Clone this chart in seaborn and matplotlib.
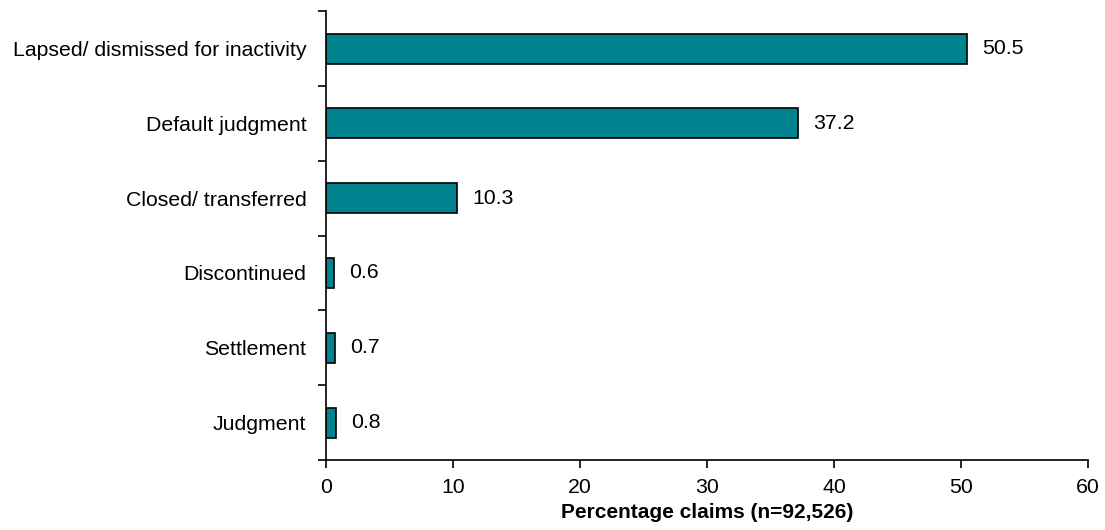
import matplotlib
matplotlib.use("Agg")
import matplotlib.pyplot as plt
import seaborn as sns
import pandas as pd
import numpy as np
from matplotlib.ticker import FixedLocator

sns.set_style("white")
plt.rcParams['font.family'] = ['Liberation Sans', 'DejaVu Sans']
plt.rcParams['text.color'] = 'black'
plt.rcParams['xtick.color'] = 'black'
plt.rcParams['ytick.color'] = 'black'
plt.rcParams['axes.labelcolor'] = 'black'

categories = ["Lapsed/ dismissed for inactivity", "Default judgment", "Closed/ transferred",
              "Discontinued", "Settlement", "Judgment"]
percentages = [50.5, 37.2, 10.3, 0.6, 0.7, 0.8]

df = pd.DataFrame({"outcome": categories, "pct": percentages})

fig = plt.figure(figsize=(11.05, 5.3), dpi=100)
ax = fig.add_axes([0.295, 0.132, 0.6895, 0.847])

sns.barplot(data=df, x="pct", y="outcome", orient="h", color="#00838F",
            edgecolor="black", linewidth=1.2, width=0.4, saturation=1, ax=ax)

fs = 15.3
for i, v in enumerate(percentages):
    ax.text(v + 1.2, i, f"{v:.1f}", va="center", ha="left", fontsize=fs)

ax.set_xlim(0, 60)
ax.set_ylim(len(categories) - 0.5, -0.5)
ax.set_xticks(range(0, 61, 10))
ax.yaxis.set_minor_locator(FixedLocator(np.arange(-0.5, len(categories), 1.0)))
ax.tick_params(axis="y", which="major", length=0, labelsize=fs, pad=14)
ax.tick_params(axis="y", which="minor", length=6, width=1.2, left=True)
ax.tick_params(axis="x", which="major", length=6, width=1.2, bottom=True, labelsize=fs, pad=7)

ax.set_xlabel("Percentage claims (n=92,526)", fontsize=15, fontweight="bold", labelpad=4)
ax.set_ylabel("")

for side in ["top", "right"]:
    ax.spines[side].set_visible(False)
for side in ["left", "bottom"]:
    ax.spines[side].set_color("black")
    ax.spines[side].set_linewidth(1.2)

fig.savefig("out.png", dpi=100)
